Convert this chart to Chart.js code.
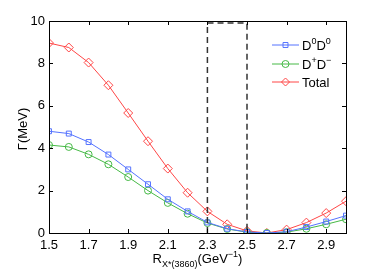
<!DOCTYPE html>
<html>
<head>
<meta charset="utf-8">
<script src="https://cdn.jsdelivr.net/npm/chart.js@4"></script>
<style>
  html, body { margin: 0; padding: 0; background: #fff; }
  #wrap { width: 382px; height: 273px; }
</style>
</head>
<body>
<div id="wrap"><canvas id="c"></canvas></div>
<script>
// R values (GeV^-1)
const rVals = [1.5, 1.6, 1.7, 1.8, 1.9, 2.0, 2.1, 2.2, 2.3, 2.4, 2.5, 2.6, 2.7, 2.8, 2.9, 3.0];
// widths (MeV)
const gD0D0 = [4.8, 4.69, 4.29, 3.7, 3.0, 2.3, 1.59, 1.02, 0.5, 0.2, 0.05, 0.0, 0.06, 0.28, 0.54, 0.82];
const gDpDm = [4.15, 4.06, 3.71, 3.24, 2.64, 2.0, 1.42, 0.91, 0.47, 0.19, 0.04, 0.0, 0.04, 0.2, 0.41, 0.65];
const gTotal = [8.96, 8.75, 8.04, 6.97, 5.66, 4.33, 3.04, 1.9, 1.02, 0.41, 0.1, 0.0, 0.16, 0.49, 0.94, 1.5];
const xTicks = [1.5, 1.7, 1.9, 2.1, 2.3, 2.5, 2.7, 2.9];
const yTicks = [0, 2, 4, 6, 8, 10];
const boxX = [2.3, 2.5];
const boxTop = 9.9;

const BLUE = 'rgb(85,115,255)';
const GREEN = 'rgb(70,185,70)';
const RED = 'rgb(255,70,70)';
const FONT = '"Liberation Sans", Arial, sans-serif';

const pts = arr => arr.map((v, i) => ({ x: rVals[i], y: v }));

function ds(label, data, color, style, radius) {
    return {
        label: label, data: pts(data),
        borderColor: color, backgroundColor: 'rgba(0,0,0,0)',
        borderWidth: 1, pointStyle: style, pointRadius: radius,
        pointBorderWidth: 1, pointBorderColor: color,
        pointBackgroundColor: 'rgba(0,0,0,0)', tension: 0
    };
}

// frame, inward ticks, dashed box, legend, axis titles
const decor = {
    id: 'decor',
    afterDraw(chart) {
        const ctx = chart.ctx;
        const a = chart.chartArea;
        const xs = chart.scales.x, ys = chart.scales.y;
        ctx.save();

        // dashed box
        ctx.strokeStyle = '#333';
        ctx.lineWidth = 1.5;
        ctx.setLineDash([6, 4]);
        const x1 = xs.getPixelForValue(boxX[0]), x2 = xs.getPixelForValue(boxX[1]);
        const yt = ys.getPixelForValue(boxTop), yb = ys.getPixelForValue(0);
        ctx.beginPath();
        ctx.moveTo(x1, yb); ctx.lineTo(x1, yt); ctx.lineTo(x2, yt); ctx.lineTo(x2, yb);
        ctx.stroke();
        ctx.setLineDash([]);

        // frame
        ctx.strokeStyle = '#000';
        ctx.lineWidth = 1;
        ctx.strokeRect(Math.round(a.left) + 0.5, Math.round(a.top) + 0.5,
            Math.round(a.right - a.left), Math.round(a.bottom - a.top));
        const tl = 4;
        ctx.beginPath();
        xTicks.forEach(v => {
            const px = Math.round(xs.getPixelForValue(v)) + 0.5;
            ctx.moveTo(px, a.bottom); ctx.lineTo(px, a.bottom - tl);
            ctx.moveTo(px, a.top); ctx.lineTo(px, a.top + tl);
        });
        yTicks.forEach(v => {
            const py = Math.round(ys.getPixelForValue(v)) + 0.5;
            ctx.moveTo(a.left, py); ctx.lineTo(a.left + tl, py);
            ctx.moveTo(a.right, py); ctx.lineTo(a.right - tl, py);
        });
        ctx.stroke();

        // legend
        const items = [
            { c: BLUE, s: 'rect', main: ['D', '0', 'D', '0'] },
            { c: GREEN, s: 'circle', main: ['D', '+', 'D', '\u2212'] },
            { c: RED, s: 'rectRot', main: ['Total'] }
        ];
        const ly = [45, 64, 82];
        items.forEach((it, i) => {
            const y = ly[i];
            ctx.strokeStyle = it.c;
            ctx.fillStyle = 'rgba(0,0,0,0)';
            ctx.lineWidth = 1;
            ctx.beginPath(); ctx.moveTo(272, y); ctx.lineTo(299, y); ctx.stroke();
            Chart.helpers.drawPoint(ctx, { pointStyle: it.s, radius: it.s === 'rectRot' ? 4 : 3.5, borderWidth: 1 }, 285.5, y);
            ctx.fillStyle = '#000';
            ctx.textBaseline = 'alphabetic';
            ctx.textAlign = 'left';
            let x = 302;
            if (it.main.length === 1) {
                ctx.font = '13px ' + FONT;
                ctx.fillText(it.main[0], x, y + 5);
            } else {
                for (let k = 0; k < 4; k++) {
                    if (k % 2 === 0) {
                        ctx.font = '13px ' + FONT;
                        ctx.fillText(it.main[k], x, y + 5);
                    } else {
                        ctx.font = '9px ' + FONT;
                        ctx.fillText(it.main[k], x, y - 1);
                    }
                    x += ctx.measureText(it.main[k]).width;
                }
            }
        });

        // x title: R_{X*(3860)}(GeV^{-1})
        const parts = [
            { t: 'R', f: 13, dy: 0 },
            { t: 'X*(3860)', f: 9, dy: 4 },
            { t: '(GeV', f: 13, dy: 0 },
            { t: '\u22121', f: 9, dy: -6 },
            { t: ')', f: 13, dy: 0 }
        ];
        let w = 0;
        parts.forEach(p => { ctx.font = p.f + 'px ' + FONT; p.w = ctx.measureText(p.t).width; w += p.w; });
        let x = (a.left + a.right) / 2 - w / 2;
        ctx.fillStyle = '#000';
        ctx.textAlign = 'left';
        parts.forEach(p => {
            ctx.font = p.f + 'px ' + FONT;
            ctx.fillText(p.t, x, 263 + p.dy);
            x += p.w;
        });

        // y title
        ctx.translate(23, (a.top + a.bottom) / 2 + 2);
        ctx.rotate(-Math.PI / 2);
        ctx.font = '13px ' + FONT;
        ctx.textAlign = 'center';
        ctx.textBaseline = 'middle';
        ctx.fillText('\u0393(MeV)', 0, 0);
        ctx.restore();
    }
};

new Chart(document.getElementById('c'), {
    type: 'line',
    data: {
        datasets: [
            ds('D0D0', gD0D0, BLUE, 'rect', 3.5),
            ds('D+D-', gDpDm, GREEN, 'circle', 3.5),
            ds('Total', gTotal, RED, 'rectRot', 4.5)
        ]
    },
    options: {
        responsive: true, maintainAspectRatio: false,
        animation: false,
        layout: { padding: { left: 0, top: 21, right: 36, bottom: 0 } },
        plugins: { legend: { display: false }, tooltip: { enabled: false } },
        scales: {
            x: {
                type: 'linear', min: 1.5, max: 3.0,
                grid: { display: false, drawTicks: false },
                border: { display: false },
                afterBuildTicks: s => { s.ticks = xTicks.map(v => ({ value: v })); },
                afterFit: s => { s.height = 40; },
                ticks: {
                    color: '#000', padding: 5, maxRotation: 0,
                    font: { family: FONT, size: 13 },
                    callback: v => v.toFixed(1)
                }
            },
            y: {
                min: 0, max: 10,
                grid: { display: false, drawTicks: false },
                border: { display: false },
                afterBuildTicks: s => { s.ticks = yTicks.map(v => ({ value: v })); },
                afterFit: s => { s.width = 49; },
                ticks: {
                    color: '#000', padding: 4,
                    font: { family: FONT, size: 13 }
                }
            }
        }
    },
    plugins: [decor]
});
</script>
</body>
</html>
